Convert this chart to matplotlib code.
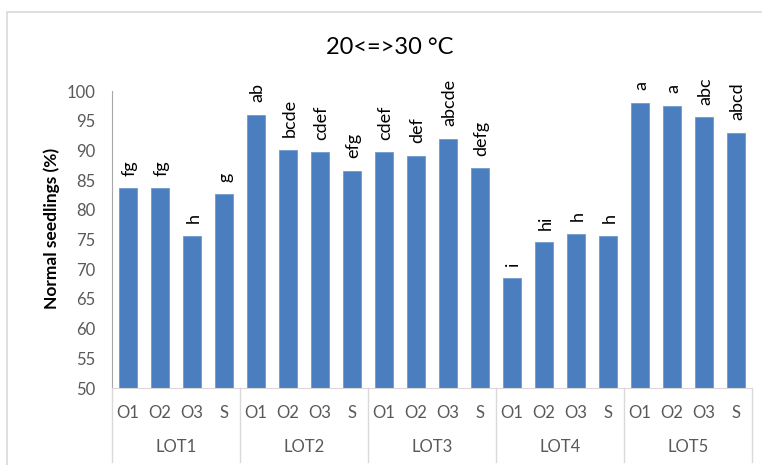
import matplotlib
matplotlib.use("Agg")
from matplotlib import pyplot as plt
from matplotlib.patches import Rectangle
from matplotlib.transforms import blended_transform_factory

# data
lots = ['LOT1', 'LOT2', 'LOT3', 'LOT4', 'LOT5']
treatments = ['O1', 'O2', 'O3', 'S']
lot1 = [83.6, 83.6, 75.6, 82.6]
lot2 = [96.0, 90.1, 89.7, 86.6]
lot3 = [89.7, 89.1, 92.0, 87.0]
lot4 = [68.5, 74.5, 76.0, 75.6]
lot5 = [98.0, 97.5, 95.6, 93.0]
letters1 = ['fg', 'fg', 'h', 'g']
letters2 = ['ab', 'bcde', 'cdef', 'efg']
letters3 = ['cdef', 'def', 'abcde', 'defg']
letters4 = ['i', 'hi', 'h', 'h']
letters5 = ['a', 'a', 'abc', 'abcd']
yticks = [50, 55, 60, 65, 70, 75, 80, 85, 90, 95, 100]

values = lot1 + lot2 + lot3 + lot4 + lot5
letters = letters1 + letters2 + letters3 + letters4 + letters5
n = len(values)
xs = list(range(n))

plt.rcParams['font.family'] = ['Lato', 'DejaVu Sans']
W, H = 762, 465
fig = plt.figure(figsize=(W / 100, H / 100), dpi=100)

# chart frame
fig.patches.append(Rectangle((7 / W, -0.1), 1.1, (H - 12) / H + 0.1, transform=fig.transFigure,
                             fill=False, edgecolor='#D9D9D9', linewidth=1.2))

ax = fig.add_axes([112 / W, (H - 388) / H, 640 / W, 297 / H])
ax.bar(xs, values, width=0.56, color='#4A7EBF', edgecolor='#6F9AD0', linewidth=0.6)

for x, v, t in zip(xs, values, letters):
    ax.annotate(t, (x, v), xytext=(1, 9), textcoords='offset points', rotation=90,
                ha='center', va='bottom', fontsize=13, color='black')

ax.set_xlim(-0.5, n - 0.5)
ax.set_ylim(50, 100)
ax.set_yticks(yticks)
ax.tick_params(axis='y', length=0, pad=12, labelsize=12, labelcolor='#595959')
ax.set_xticks([])
for s in ['top', 'right']:
    ax.spines[s].set_visible(False)
ax.spines['left'].set_color('#A6A6A6')
ax.spines['bottom'].set_color('#D9D9D9')

# two-level category axis
tr = blended_transform_factory(ax.transData, ax.transAxes)
for i, x in enumerate(xs):
    ax.text(x, -0.084, treatments[i % 4], transform=tr, ha='center', va='center',
            fontsize=12, color='#595959')
for g, lot in enumerate(lots):
    ax.text(g * 4 + 1.5, -0.199, lot, transform=tr, ha='center', va='center',
            fontsize=12, color='#595959')
for g in range(len(lots) + 1):
    ax.plot([g * 4 - 0.5, g * 4 - 0.5], [0, -0.25], transform=tr, color='#D9D9D9',
            linewidth=1, clip_on=False)

fig.text(52 / W, 1 - 228 / H, 'Normal seedlings (%)', rotation=90, ha='center', va='center',
         fontsize=12.5, fontweight='bold', color='black')
fig.text(390 / W, 1 - 48 / H, '20<=>30 °C', ha='center', va='center', fontsize=17, color='black')

fig.savefig('out.png', dpi=100)
